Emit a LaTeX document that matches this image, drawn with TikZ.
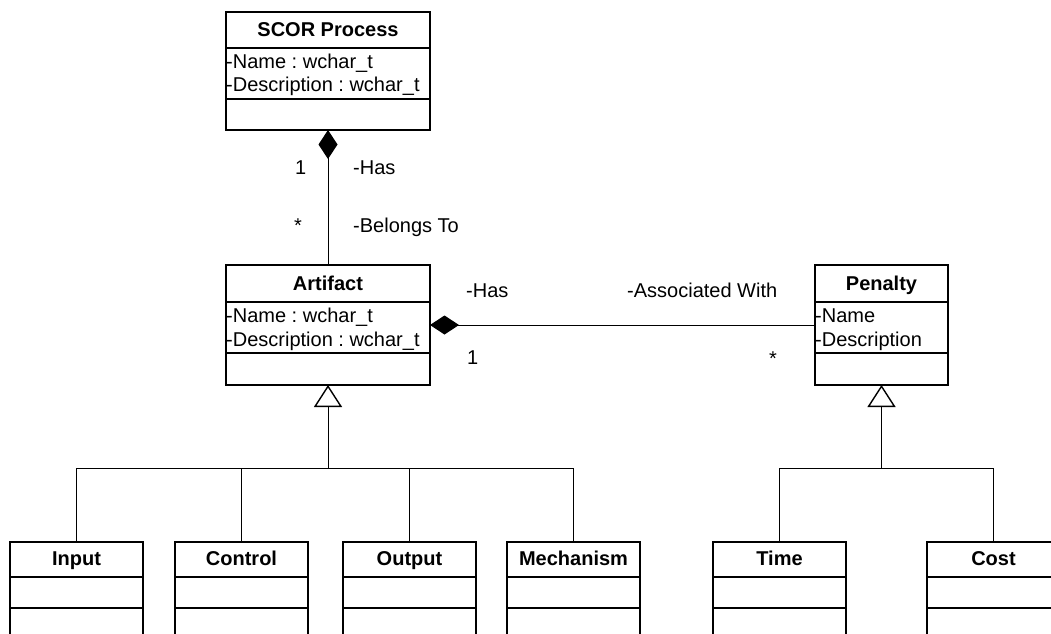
\documentclass[tikz,border=0pt]{standalone}
\usepackage{fontspec}
\setmainfont{Liberation Sans}
\usetikzlibrary{arrows.meta}
\frenchspacing
\tikzset{
 classbox/.style={draw, fill=white, line width=1.6pt, inner sep=0pt, outer sep=0pt},
 classline/.style={line width=1.6pt},
 clstitle/.style={font=\fontsize{20pt}{24pt}\selectfont\bfseries, inner sep=0pt, anchor=base},
 attr/.style={font=\fontsize{20pt}{24pt}\selectfont, inner sep=0pt, anchor=base west},
 lbl/.style={font=\fontsize{20pt}{24pt}\selectfont, inner sep=0pt, anchor=base west},
 conn/.style={line width=1pt},
 compo/.style={conn, -{Diamond[length=29pt,width=19pt]}},
 gener/.style={conn, -{Triangle[open, length=22pt, width=28pt, line width=1.4pt]}},
}
% #1 name, #2 x, #3 y, #4 width, #5 height, #6 header line, #7 attr line, #8 title baseline, #9 title
\newcommand{\umlclass}[9]{%
 \node[classbox, minimum width=#4pt, minimum height=#5pt, anchor=north west] (#1) at (#2,#3) {};
 \draw[classline] ([yshift=-#6pt]#1.north west) -- ([yshift=-#6pt]#1.north east);
 \draw[classline] ([yshift=-#7pt]#1.north west) -- ([yshift=-#7pt]#1.north east);
 \node[clstitle] (#1-title) at ([yshift=-#8pt]#1.north) {#9};
}
\begin{document}
\begin{tikzpicture}[x=1pt,y=-1pt]
\clip (0,0) rectangle (1051,633);
\fill[white] (0,0) rectangle (1051,633);
\coordinate (barL) at (0,468);

% classes
\umlclass{scor}{226}{12}{204}{118}{36}{87}{24}{SCOR Process}
\node[attr] (scor-a1) at ([yshift=-56pt]scor.north west) {-Name : wchar\_t};
\node[attr] (scor-a2) at ([yshift=-79pt]scor.north west) {-Description : wchar\_t};

\umlclass{art}{226}{265}{204}{120}{37}{88}{25}{Artifact}
\node[attr] (art-a1) at ([yshift=-57pt]art.north west) {-Name : wchar\_t};
\node[attr] (art-a2) at ([yshift=-81pt]art.north west) {-Description : wchar\_t};

\umlclass{pen}{815}{265}{133}{120}{37}{88}{25}{Penalty}
\node[attr] (pen-a1) at ([yshift=-57pt]pen.north west) {-Name};
\node[attr] (pen-a2) at ([yshift=-81pt]pen.north west) {-Description};

\umlclass{input}{10}{542}{133}{120}{35}{66}{23}{Input}
\umlclass{control}{175}{542}{133}{120}{35}{66}{23}{Control}
\umlclass{output}{343}{542}{133}{120}{35}{66}{23}{Output}
\umlclass{mech}{507}{542}{133}{120}{35}{66}{23}{Mechanism}
\umlclass{time}{713}{542}{133}{120}{35}{66}{23}{Time}
\umlclass{cost}{927}{542}{133}{120}{35}{66}{23}{Cost}

% compositions
\draw[compo] (art.north) -- (scor.south);
\draw[compo] (pen.west) -- (art.east);

% generalizations
\draw[conn] (input.north) |- (mech.north |- barL) -- (mech.north);
\draw[conn] (control.north) -- (control.north |- barL);
\draw[conn] (output.north) -- (output.north |- barL);
\draw[gener] (art.south |- barL) -- (art.south);
\draw[conn] (time.north) |- (cost.north |- barL) -- (cost.north);
\draw[gener] (pen.south |- barL) -- (pen.south);

% labels
\node[lbl] (m1) at (295,174) {1};
\node[lbl] (r1) at (353,174) {-Has};
\node[lbl] (m2) at (294,232) {*};
\node[lbl] (r2) at (353,232) {-Belongs To};
\node[lbl] (r3) at (466,297) {-Has};
\node[lbl] (r4) at (627,297) {-Associated With};
\node[lbl] (m3) at (467,364) {1};
\node[lbl] (m4) at (769,365) {*};
\end{tikzpicture}
\end{document}
